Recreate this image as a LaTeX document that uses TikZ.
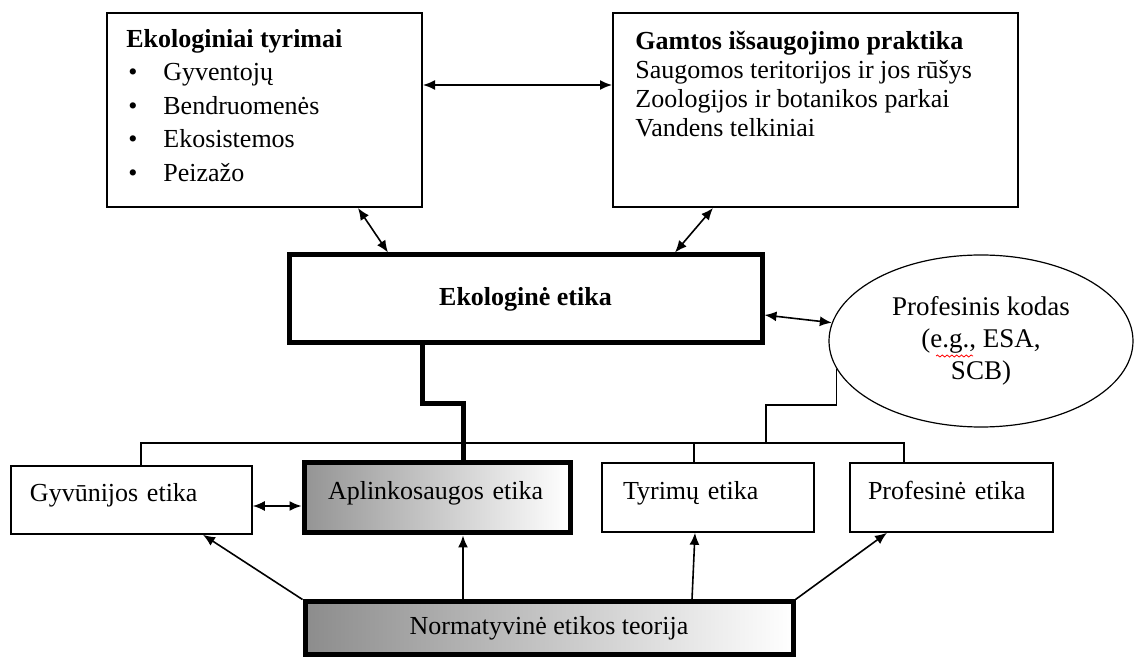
\documentclass[tikz,border=0pt]{standalone}
\usepackage{fontspec}
\setmainfont{Liberation Serif}
\usepackage{tikz}
\usetikzlibrary{arrows.meta, shapes.geometric, decorations.pathmorphing}
\tikzset{>={Latex[length=6pt,width=5pt]}}
\newcommand{\listdot}{\makebox[18.5pt][l]{\hspace{1pt}\textbullet}}

\begin{document}
\begin{tikzpicture}[x=0.5pt,y=-0.5pt,
  every node/.style={font=\fontsize{13}{15}\selectfont},
  plainbox/.style={draw,line width=1pt,inner sep=0pt},
  heavybox/.style={draw,line width=2.5pt,inner sep=0pt},
  leafbox/.style={draw,line width=0.8pt,align=left,inner ysep=0pt,text depth=7.5pt},
  graybox/.style={left color=black!42,right color=white},
  boxtext/.style={anchor=north west,align=left,inner sep=0pt},
  link/.style={line width=0.8pt},
  bus/.style={line width=0.6pt},
  dbl/.style={link,<->},
  spell/.style={red,line width=0.4pt,decorate,
    decoration={snake,amplitude=0.5pt,segment length=2.4pt}}]
\useasboundingbox (0,0) rectangle (1136,657);

\node[plainbox,minimum width=157.5pt,minimum height=97pt] (tyr) at (264.5,110) {};
\node[boxtext,font=\fontsize{13}{16.75}\selectfont] (tyrtxt) at (126,29)
  {\textbf{Ekologiniai tyrimai}\\ \listdot Gyventojų\\ \listdot Bendruomenės\\
   \listdot Ekosistemos\\ \listdot Peizažo};
\node[plainbox,minimum width=202.5pt,minimum height=97pt] (gamt) at (815.5,110) {};
\node[boxtext,font=\fontsize{13}{14.5}\selectfont] (gamttxt) at (635,31)
  {\textbf{Gamtos išsaugojimo praktika}\\ Saugomos teritorijos ir jos rūšys\\
   Zoologijos ir botanikos parkai\\ Vandens telkiniai};

\node[heavybox,minimum width=236.5pt,minimum height=44pt,font=\fontsize{13}{15}\bfseries] (eko) at (525.5,299) {Ekologinė etika};
\node[ellipse,draw,line width=0.6pt,minimum width=152pt,minimum height=86pt,
  inner sep=0pt,align=center,font=\fontsize{13.5}{16}\selectfont] (kodas) at (981,341)
  {Profesinis kodas\\(e.g., ESA,\\SCB)};
\draw[spell] ([shift={(-45,15)}]kodas.center) -- ++(37,0);

\node[leafbox,minimum height=34pt,inner xsep=9.5pt,text width=101.5pt] (gyv) at (131.5,500) {Gyvūnijos etika};
\node[leafbox,graybox,line width=2.5pt,minimum height=35pt,inner xsep=12pt,text width=109pt] (apl) at (437,498) {Aplinkosaugos etika};
\node[leafbox,minimum height=34.5pt,inner xsep=10.5pt,text width=85pt] (tyr2) at (708,497.5) {Tyrimų etika};
\node[leafbox,minimum height=34.5pt,inner xsep=9pt,text width=83.5pt] (prof) at (951.5,497.5) {Profesinė etika};
\node[heavybox,graybox,left color=black!45,minimum width=244pt,minimum height=26pt] (norm) at (549,628) {Normatyvinė etikos teorija};

\draw[dbl] (tyr.east |- 0,85) -- (gamt.west |- 0,85);
\draw[dbl] (tyr.south -| 358,0) -- (eko.north -| 388,0);
\draw[dbl] (gamt.south -| 713,0) -- (eko.north -| 675,0);
\draw[dbl] (eko.east |- 0,315) -- (kodas.173);
\draw[line width=2.5pt] (eko.south -| 422,0) -- (422,404) -| (apl.north -| 463,0);

\draw[bus] (gyv.north -| 141,0) -- (141,443) -- (904,443) -- (prof.north -| 904,0);
\draw[bus] (tyr2.north -| 694,0) -- (694,443);
\draw[bus] (766,443) -- (766,405) -| (kodas.191);

\draw[dbl] (gyv.east |- 0,506) -- (apl.west |- 0,506);
\draw[link,->] (norm.north west) -- (gyv.south -| 203,0);
\draw[link,->] (norm.north -| 463,0) -- (apl.south -| 463,0);
\draw[link,->] (norm.north -| 692,0) -- (tyr2.south -| 695,0);
\draw[link,->] (norm.north east) -- (prof.south -| 887,0);
\end{tikzpicture}
\end{document}
